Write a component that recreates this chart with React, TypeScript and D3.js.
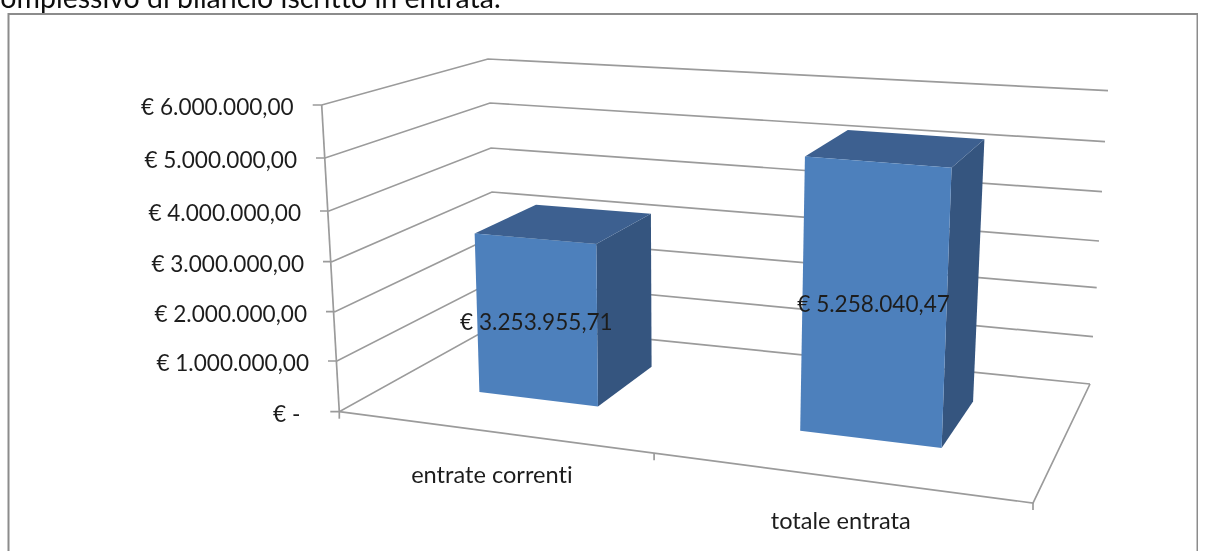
import * as React from 'react';
import * as d3 from 'd3';

const width = 1211;
const height = 551;

const headline = 'complessivo di bilancio iscritto in entrata.';
const categories = ['entrate correnti', 'totale entrata'];
const values = [3253955.71, 5258040.47];
const ticks = [0, 1000000, 2000000, 3000000, 4000000, 5000000, 6000000];

const it = d3.formatLocale({decimal: ',', thousands: '.', grouping: [3], currency: ['€ ', '']});
const money = it.format('$,.2f');

// the four upright edges of the 3D box, one scale per edge and pixel axis
const edge = (xs: number[], ys: number[]) => ({
  x: d3.scaleLinear().domain(ticks).range(xs),
  y: d3.scaleLinear().domain(ticks).range(ys),
});
const frontLeft = edge([339.3, 337, 335, 332, 329, 325, 321.7], [411.7, 361, 311.7, 261.7, 211, 158, 105]);
const backLeft = edge([497, 495.5, 494, 492, 491, 490, 488], [324, 280, 236, 192, 148, 103, 59]);
const backRight = edge([1090, 1093, 1096.7, 1099, 1102, 1105, 1108], [384, 336.7, 287.7, 241, 191.7, 141.7, 90.7]);
const frontRight = {
  x: d3.scaleLinear().domain([0, 6000000]).range([1033, 1048]),
  y: d3.scaleLinear().domain([0, 6000000]).range([503, 160]),
};

// perspective of the floor: (u, v) in the unit square to pixels
// u runs along the categories, v runs from the front of the floor to the back wall
const floor = (u: number, v: number): [number, number] => {
  const x0 = frontLeft.x(0), y0 = frontLeft.y(0);
  const x1 = frontRight.x(0), y1 = frontRight.y(0);
  const x2 = backRight.x(0), y2 = backRight.y(0);
  const x3 = backLeft.x(0), y3 = backLeft.y(0);
  const sx = x0 - x1 + x2 - x3, sy = y0 - y1 + y2 - y3;
  const dx1 = x1 - x2, dx2 = x3 - x2, dy1 = y1 - y2, dy2 = y3 - y2;
  const det = dx1 * dy2 - dx2 * dy1;
  const g = (sx * dy2 - dx2 * sy) / det;
  const h = (dx1 * sy - sx * dy1) / det;
  const w = g * u + h * v + 1;
  return [
    ((x1 - x0 + g * x1) * u + (x3 - x0 + h * x3) * v + x0) / w,
    ((y1 - y0 + g * y1) * u + (y3 - y0 + h * y3) * v + y0) / w,
  ];
};

// lift a floor point to a value, blending how far the four corner edges rise
const project = (u: number, v: number, value: number): [number, number] => {
  const [fx, fy] = floor(u, v);
  const rise = (e: typeof frontRight, k: 'x' | 'y') => (e[k](value) - e[k](0)) * 0.992;
  const blend = (k: 'x' | 'y') => {
    const near = d3.interpolateNumber(rise(frontLeft, k), rise(frontRight, k))(u);
    const far = d3.interpolateNumber(rise(backLeft, k), rise(backRight, k))(u);
    return d3.interpolateNumber(near, far)(v);
  };
  return [fx + blend('x'), fy + blend('y')];
};

const band = d3.scaleBand<string>().domain(categories).range([0, 1.006]).paddingInner(0.61).paddingOuter(0.3);
const depth = d3.scaleLinear().domain([0, 1]).range([0.305, 0.72]);

const poly = d3.line();
const gridColor = '#9b9b9b';
const frameColor = '#8c8c8c';
const labelFont = 'Lato, sans-serif';
const textColor = '#1f1f1f';

const Bar = ({name, value}: {name: string; value: number}) => {
  const u0 = band(name)!;
  const u1 = u0 + band.bandwidth();
  const v0 = depth(0), v1 = depth(1);
  const front = [project(u0, v0, 0), project(u1, v0, 0), project(u1, v0, value), project(u0, v0, value)];
  const side = [project(u1, v0, 0), project(u1, v1, 0), project(u1, v1, value), project(u1, v0, value)];
  const top = [project(u0, v0, value), project(u1, v0, value), project(u1, v1, value), project(u0, v1, value)];
  return (
    <g>
      <path d={poly(side) + 'Z'} fill="#34547f" />
      <path d={poly(top) + 'Z'} fill="#3d6190" />
      <path d={poly(front) + 'Z'} fill="#4e80bc" />
    </g>
  );
};

export default function App() {
  return (
    <svg width={width} height={height} style={{position: 'absolute', left: 0, top: 0}}>
      <defs>
        <filter id="soft" x="0" y="0" width="100%" height="100%">
          <feGaussianBlur stdDeviation="0.45" />
        </filter>
      </defs>
      <rect width={width} height={height} fill="#fff" />
      <g filter="url(#soft)">
        <text x={-13} y={8} fontFamily={labelFont} fontSize={28.5} fill="#111" style={{fontVariantLigatures: 'none'}}>{headline}</text>
        <rect x={8.5} y={14} width={1189} height={560} fill="#fff" stroke={frameColor} strokeWidth={2} />

        <g fill="none" stroke={gridColor} strokeWidth={1.7}>
          {ticks.map(t => (
            <path key={t} d={poly([
              [frontLeft.x(t) - 9, frontLeft.y(t)],
              [frontLeft.x(t), frontLeft.y(t)],
              [backLeft.x(t), backLeft.y(t)],
              [backRight.x(t), backRight.y(t)],
            ])!} />
          ))}
          <path d={poly([floor(0, 0), [frontLeft.x(6000000), frontLeft.y(6000000)]])!} />
          <path d={poly([floor(0, 0), floor(1, 0), floor(1, 1)])!} />
          {[0, 0.5, 1].map(u => {
            const [x, y] = floor(u, 0);
            return <path key={u} d={poly([[x, y], [x, y + 7]])!} />;
          })}
        </g>

        {categories.map((c, i) => <Bar key={c} name={c} value={values[i]} />)}

        <g fontFamily={labelFont} fontSize={22.6} fill={textColor} style={{fontVariantLigatures: 'none'}}>
          {ticks.map(t => (
            <text key={t} x={frontLeft.x(t) - (t ? 28 : 39)} y={frontLeft.y(t) + 2} dy="0.35em" textAnchor="end">
              {t ? money(t) : '€ -'}
            </text>
          ))}
          {categories.map((c, i) => {
            const u = band(c)! + band.bandwidth() / 2;
            const [lx, ly] = project(u, depth(0), values[i] / 2);
            const [cx, cy] = floor(u, 0);
            return (
              <g key={c}>
                <text x={lx} y={ly + 3} dy="0.35em" textAnchor="middle">{money(values[i])}</text>
                <text x={cx + 2} y={cy + 43.5} dy="0.35em" textAnchor="middle" fontSize={23.6}>{c}</text>
              </g>
            );
          })}
        </g>
      </g>
    </svg>
  );
}
